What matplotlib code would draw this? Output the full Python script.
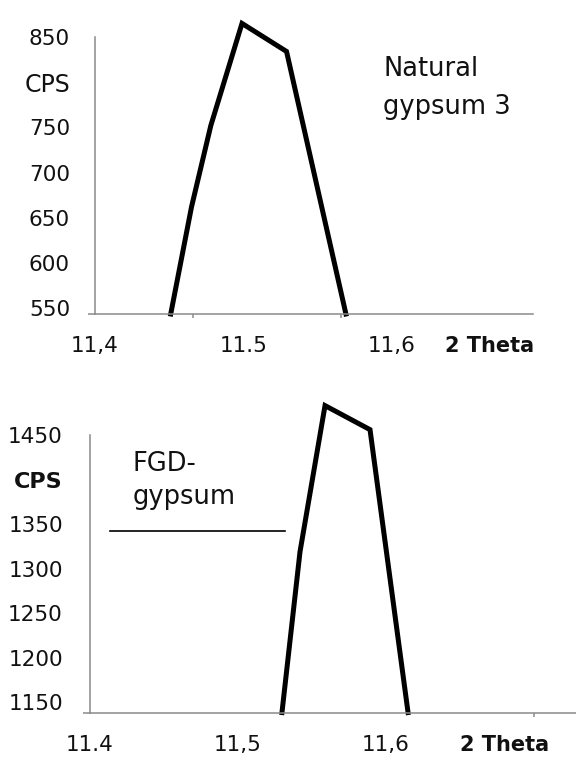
import matplotlib
matplotlib.use("Agg")
import matplotlib.pyplot as plt

# ---- data ----
top_theta = [11.451, 11.465, 11.478, 11.499, 11.529, 11.569]
top_cps = [543.6, 662, 752, 865, 834, 543.6]
top_yticks = [550, 600, 650, 700, 750, 800, 850]
top_ylabels = ["550", "600", "650", "700", "750", "CPS", "850"]
top_xticks = [11.4, 11.5, 11.6, 11.666]
top_xlabels = ["11,4", "11.5", "11,6", "2 Theta"]
top_xmarks = [11.466, 11.566, 11.666]

bot_theta = [11.5297, 11.5419, 11.5588, 11.5892, 11.6149]
bot_cps = [1138.5, 1319, 1483, 1456, 1138.5]
bot_yticks = [1150, 1200, 1250, 1300, 1350, 1400, 1450]
bot_ylabels = ["1150", "1200", "1250", "1300", "1350", "CPS", "1450"]
bot_xticks = [11.4, 11.5, 11.6, 11.68]
bot_xlabels = ["11.4", "11,5", "11,6", "2 Theta"]
bot_xmarks = [11.5, 11.6, 11.7]
bot_hline_x = [11.4135, 11.5318]
bot_hline_y = [1342, 1342]

W, H = 576, 758
fig = plt.figure(figsize=(W / 100, H / 100), dpi=100)
plt.rcParams['font.family'] = ['DejaVu Sans']

def rect(l, t, r, b):
    return [l / W, 1 - b / H, (r - l) / W, (b - t) / H]

spine_c = "#8a8a8a"

def style(ax, yticks, ylabels, xticks, xlabels, xmarks, ypad, xpad):
    for s in ("top", "right"):
        ax.spines[s].set_visible(False)
    for s in ("left", "bottom"):
        ax.spines[s].set_color(spine_c)
        ax.spines[s].set_linewidth(1.1)
    ax.set_yticks(yticks)
    ax.set_yticklabels(ylabels)
    ax.set_xticks(xticks)
    ax.set_xticklabels(xlabels)
    ax.set_xticks(xmarks, minor=True)
    ax.tick_params(axis="both", which="major", length=0, labelsize=15.5, colors="#111111")
    ax.tick_params(axis="y", which="major", pad=ypad)
    ax.tick_params(axis="x", which="major", pad=xpad)
    ax.tick_params(axis="x", which="minor", length=3, width=1.1, color=spine_c, direction="out")
    ax.set_yticks([ax.get_ylim()[0]], minor=True)
    ax.tick_params(axis="y", which="minor", length=5, width=1.1, color=spine_c, direction="out")

# ---- top panel ----
ax1 = fig.add_axes(rect(95, 37, 533, 314))
ax1.plot(top_theta, top_cps, color="black", lw=3.6, solid_joinstyle="miter", clip_on=False)
ax1.set_xlim(11.4, 11.695)
ax1.set_ylim(543.6, 839.8)
style(ax1, top_yticks, top_ylabels, top_xticks, top_xlabels, top_xmarks, 18, 16)
lab = ax1.get_yticklabels()[5]
lab.set_fontsize(17)
ax1.get_xticklabels()[3].set_fontweight("bold")
ax1.get_xticklabels()[3].set_fontsize(15)
ax1.text(11.594, 794, "Natural\ngypsum 3", fontsize=18.5, ha="left", va="center",
         linespacing=1.6, color="#111111")

# ---- bottom panel ----
ax2 = fig.add_axes(rect(90, 435, 576, 713))
ax2.plot(bot_theta, bot_cps, color="black", lw=3.6, solid_joinstyle="miter", clip_on=False)
ax2.plot(bot_hline_x, bot_hline_y, color="black", lw=1.2)
ax2.set_xlim(11.4, 11.4 + 486 / 1480)
ax2.set_ylim(1138, 1441.8)
style(ax2, bot_yticks, bot_ylabels, bot_xticks, bot_xlabels, bot_xmarks, 19.5, 16)
lab = ax2.get_yticklabels()[5]
lab.set_fontsize(16)
lab.set_fontweight("bold")
ax2.get_xticklabels()[3].set_fontweight("bold")
ax2.get_xticklabels()[3].set_fontsize(15)
ax2.text(11.4285, 1399, "FGD-\ngypsum", fontsize=18.5, ha="left", va="center",
         linespacing=1.35, color="#111111")

fig.savefig("out.png", dpi=100)
